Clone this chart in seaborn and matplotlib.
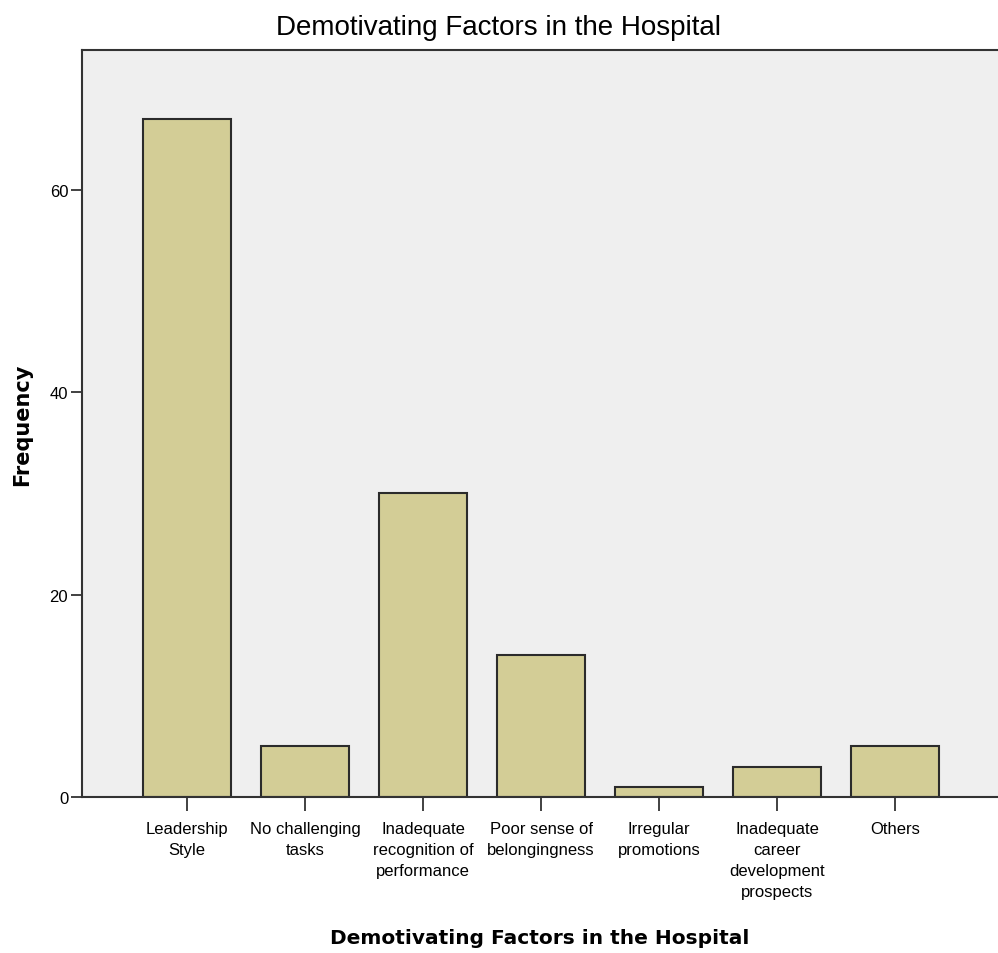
import numpy as np
import pandas as pd
import matplotlib
matplotlib.use('Agg')
import matplotlib.pyplot as plt
import seaborn as sns

# data
categories = [
    "Leadership\nStyle",
    "No challenging\ntasks",
    "Inadequate\nrecognition of\nperformance",
    "Poor sense of\nbelongingness",
    "Irregular\npromotions",
    "Inadequate\ncareer\ndevelopment\nprospects",
    "Others",
]
frequency = [67, 5, 30, 14, 1, 3, 5]
y_ticks = [0, 20, 40, 60]

TITLE = "Demotivating Factors in the Hospital"

sns.set_theme(style="white")
plt.rcParams['font.family'] = ['Liberation Sans', 'DejaVu Sans']
plt.rcParams['text.color'] = 'black'
plt.rcParams['axes.labelcolor'] = 'black'
plt.rcParams['xtick.color'] = 'black'
plt.rcParams['ytick.color'] = 'black'

df = pd.DataFrame({"factor": categories, "freq": frequency})

fig = plt.figure(figsize=(9.98, 9.54), dpi=100)
ax = fig.add_axes([0.0822, 0.1635, 0.9178, 0.7830])
ax.set_facecolor("#efefef")

sns.barplot(data=df, x="factor", y="freq", order=categories, color="#d3cd96",
            saturation=1, width=0.75, edgecolor="#2b2b2b", linewidth=1.5, ax=ax)

ax.set_xlim(-0.89, 6.873)
ax.set_ylim(0, 73.8)
ax.set_yticks(y_ticks)

for side in ["top", "left", "bottom"]:
    ax.spines[side].set_visible(True)
    ax.spines[side].set_color("#333333")
    ax.spines[side].set_linewidth(1.5)
ax.spines["right"].set_visible(False)

ax.tick_params(axis="x", bottom=True, length=10, width=1.3, color="#333333",
               labelsize=12, pad=7)
ax.tick_params(axis="y", left=True, length=8, width=1.3, color="#333333",
               labelsize=12, pad=2)
for lab in ax.get_xticklabels():
    lab.set_linespacing(1.5)

ax.set_xlabel(TITLE, fontsize=14.5, fontweight="bold", family="DejaVu Sans",
              va="center")
ax.xaxis.set_label_coords(0.5, (798 - 938) / 747)
ax.set_ylabel("Frequency", fontsize=15, fontweight="bold", family="DejaVu Sans",
              va="center")
ax.yaxis.set_label_coords((22 - 82) / 916, 0.5)
fig.text(0.5, (954 - 28) / 954, TITLE, fontsize=20, ha="center", va="center",
         color="black")

fig.savefig("out.png", dpi=100)
